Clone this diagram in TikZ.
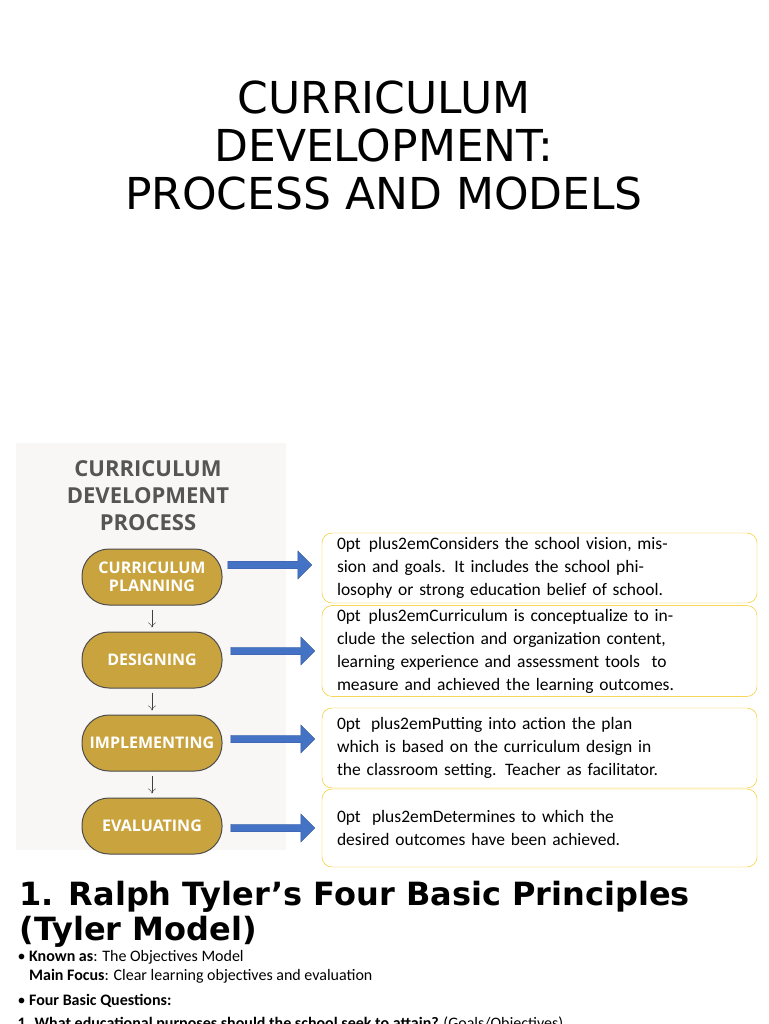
\documentclass[tikz,border=0pt]{standalone}
\usetikzlibrary{shapes.arrows,arrows.meta}
\usepackage{fontspec}
\setmainfont{Carlito}
\newfontfamily\dejavu{DejaVu Sans}
\newfontfamily\opensans{Open Sans}
\definecolor{gold}{HTML}{C9A43E}
\definecolor{arrblue}{HTML}{4472C4}
\definecolor{boxy}{HTML}{F2C200}
\definecolor{panel}{HTML}{F8F7F5}
\definecolor{ttl}{HTML}{555555}
\begin{document}
\begin{tikzpicture}[x=1pt,y=-1pt,
 pill/.style={draw=black!70,fill=gold,rounded corners=27pt,minimum width=140pt,minimum height=56pt,text=white,font=\opensans\bfseries\fontsize{16}{18}\selectfont,align=center,line width=1pt},
 desc/.style={draw=boxy,rounded corners=10pt,minimum width=435pt,text width=405pt,align=center,font=\fontsize{17.5}{23}\selectfont\hyphenpenalty=10000\exhyphenpenalty=10000},
 big/.style={single arrow,fill=arrblue,draw=arrblue!80!black,minimum height=84pt,minimum width=28pt,single arrow head extend=6pt,inner sep=2pt},
 down/.style={-{To[length=5pt,width=8pt]},black!75,shorten <=4pt,shorten >=4pt}]
\useasboundingbox (0,0) rectangle (768,1024);
\clip (0,0) rectangle (768,1024);
\node[font=\dejavu\fontsize{44}{48}\selectfont,align=center] (title) at (384,145) {CURRICULUM\\DEVELOPMENT:\\PROCESS AND MODELS};
\fill[panel] (16,443) rectangle (286,850);
\node[font=\opensans\bfseries\fontsize{22}{27}\selectfont,text=ttl,align=center] (pt) at (148,496) {CURRICULUM\\DEVELOPMENT\\PROCESS};
\node[pill] (p1) at (152,577) {CURRICULUM\\PLANNING};
\node[pill] (p2) at (152,660) {DESIGNING};
\node[pill] (p3) at (152,743) {IMPLEMENTING};
\node[pill] (p4) at (152,826) {EVALUATING};
\foreach \a/\b in {p1/p2,p2/p3,p3/p4} \draw[down] (\a) -- (\b);
\node[desc,minimum height=70pt] (d1) at (539.5,568) {Considers the school vision, mission and goals. It includes the school philosophy or strong education belief of school.};
\node[desc,minimum height=90pt] (d2) at (539.5,651) {Curriculum is conceptualize to include the selection and organization content, learning experience and assessment tools\ \ to measure and achieved the learning outcomes.};
\node[desc,minimum height=80pt] (d3) at (539.5,748) {Putting into action the plan which is based on the curriculum design in the classroom setting. Teacher as facilitator.};
\node[desc,minimum height=78pt] (d4) at (539.5,828) {Determines to which the desired outcomes have been achieved.};
\node[big] (a1) at (268,565) {};
\node[big] (a2) at (271,651) {};
\node[big] (a3) at (271,739) {};
\node[big] (a4) at (271,828) {};
\node[font=\dejavu\bfseries\fontsize{32}{35}\selectfont,anchor=north west,align=left] (h) at (16,878) {1. Ralph Tyler’s Four Basic Principles\\(Tyler Model)};
\node[anchor=north west,align=left,font=\fontsize{16}{19}\selectfont] (b1) at (14,947) {\textbullet\ \textbf{Known as}: The Objectives Model\\\phantom{\textbullet\ }\textbf{Main Focus}: Clear learning objectives and evaluation};
\node[anchor=north west,font=\fontsize{16}{19}\selectfont] (b2) at (14,991) {\textbullet\ \textbf{Four Basic Questions:}};
\node[anchor=north west,font=\fontsize{16}{19}\selectfont] (b3) at (14,1013) {\textbf{1. What educational purposes should the school seek to attain?} (Goals/Objectives)};
\end{tikzpicture}
\end{document}
